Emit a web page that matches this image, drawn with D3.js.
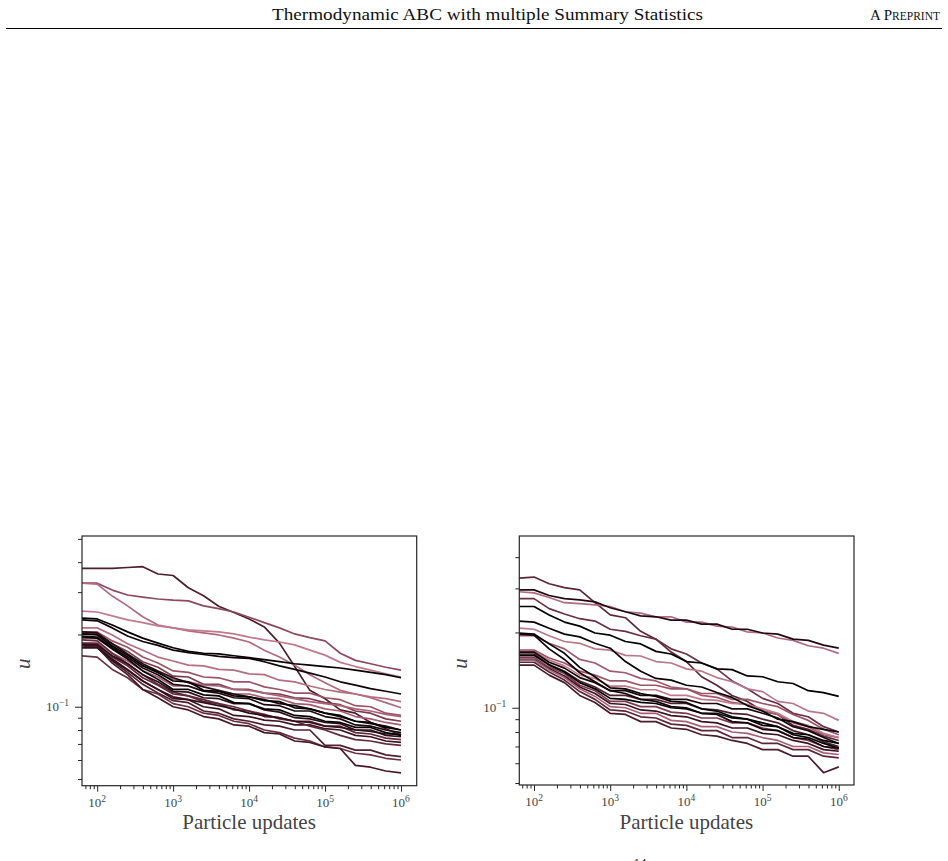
<!DOCTYPE html>
<html lang="en">
<head>
<meta charset="utf-8">
<title>u against particle updates</title>
<script src="https://d3js.org/d3.v7.min.js"></script>
<style>
body{margin:0;background:#fff;}
text{font-family:"Liberation Serif",serif;}
</style>
</head>
<body>
<div id="page"></div>
<script>
var updates = [63,100,158,251,398,631,1000,1585,2512,3981,6310,1e4,15849,25119,39811,63096,1e5,158489,251189,398107,630957,1e6]
var xTickExps = [2,3,4,5,6]
var yMajor = [0.1]
var yMinor = [0.05,0.06,0.07,0.08,0.09,0.2,0.3,0.4,0.5]

// left panel: u for each run
var leftRuns = [
 [.377,.377,.377,.380,.383,.357,.352,.313,.290,.262,.247,.232,.215,.184,.147,.117,.108,.097,.094,.086,.081,.076],
 [.327,.327,.306,.292,.286,.281,.278,.276,.263,.256,.248,.236,.224,.213,.201,.194,.188,.167,.156,.151,.146,.142],
 [.327,.324,.289,.263,.237,.219,.213,.207,.203,.199,.193,.186,.172,.161,.149,.136,.126,.117,.113,.109,.104,.099],
 [.250,.248,.239,.230,.224,.217,.213,.209,.207,.205,.201,.195,.190,.186,.181,.172,.164,.153,.147,.142,.137,.133],
 [.213,.213,.199,.183,.172,.161,.155,.149,.148,.143,.142,.137,.136,.129,.127,.122,.118,.115,.113,.110,.108,.105],
 [.205,.205,.188,.177,.161,.152,.141,.139,.133,.132,.127,.127,.121,.118,.114,.114,.109,.107,.101,.100,.094,.092],
 [.201,.201,.183,.170,.154,.146,.134,.133,.124,.124,.118,.118,.114,.113,.109,.108,.104,.102,.096,.094,.089,.087],
 [.184,.184,.167,.155,.141,.133,.122,.122,.116,.116,.113,.113,.109,.108,.103,.102,.098,.096,.091,.089,.086,.084],
 [.193,.192,.176,.161,.149,.139,.130,.127,.123,.122,.118,.117,.114,.111,.108,.105,.103,.101,.098,.096,.093,.091],
 [.184,.183,.161,.148,.132,.123,.113,.111,.105,.103,.097,.096,.091,.090,.087,.087,.083,.083,.078,.077,.074,.073],
 [.181,.179,.158,.143,.128,.118,.108,.107,.100,.098,.092,.091,.088,.087,.084,.084,.081,.080,.076,.075,.072,.071],
 [.181,.179,.155,.139,.124,.114,.106,.104,.096,.094,.089,.087,.084,.083,.080,.080,.069,.069,.066,.066,.063,.062],
 [.163,.161,.143,.132,.118,.113,.103,.100,.094,.092,.087,.085,.080,.078,.074,.072,.068,.067,.064,.063,.061,.060],
 [.179,.177,.152,.136,.118,.109,.100,.097,.091,.089,.084,.083,.078,.077,.072,.071,.068,.067,.057,.056,.054,.053],
 [.190,.188,.167,.151,.136,.124,.115,.111,.107,.103,.100,.096,.093,.089,.087,.083,.080,.076,.073,.072,.070,.069],
 [.176,.176,.157,.142,.128,.118,.110,.107,.104,.101,.098,.094,.092,.090,.087,.086,.083,.082,.080,.079,.077,.077],
 [.181,.181,.163,.151,.136,.127,.116,.115,.109,.108,.103,.103,.097,.095,.090,.089,.086,.085,.080,.080,.076,.075],
 [.197,.195,.176,.161,.145,.136,.124,.122,.116,.114,.109,.108,.102,.101,.096,.096,.091,.089,.084,.083,.080,.078],
 [.205,.203,.183,.166,.151,.141,.132,.126,.121,.117,.113,.110,.107,.103,.101,.098,.094,.091,.087,.085,.083,.080],
 [.201,.199,.179,.164,.148,.139,.128,.127,.117,.116,.111,.110,.106,.105,.099,.098,.094,.092,.087,.086,.082,.080],
 [.195,.193,.174,.158,.141,.130,.118,.118,.112,.111,.104,.103,.098,.097,.092,.091,.087,.086,.082,.082,.078,.076],
 [.234,.232,.219,.205,.193,.184,.176,.170,.167,.166,.163,.160,.157,.154,.151,.149,.147,.145,.142,.139,.136,.132],
 [.230,.228,.213,.197,.187,.180,.172,.168,.165,.162,.160,.159,.154,.148,.143,.138,.133,.127,.123,.119,.116,.113]
]
var leftColors = ["#4d1e2d","#8c4a5f","#b06a7f","#c07a8d","#b46e82","#9a5468","#7a3a50","#a45c72","#a86478",
 "#5c2738","#3a1520","#4e2030","#6a3045","#451a28","#622a3e","#300f1a","#2b0f19","#1c080f","#220a12",
 "#000000","#080204","#050103","#0f0407"]

// right panel: u for each run
var rightRuns = [
 [.330,.333,.313,.302,.296,.263,.235,.229,.202,.188,.167,.153,.133,.123,.112,.106,.097,.094,.085,.082,.077,.074],
 [.291,.288,.276,.263,.261,.258,.254,.242,.239,.231,.231,.220,.220,.212,.210,.201,.199,.190,.186,.177,.173,.165],
 [.296,.296,.281,.273,.270,.265,.251,.242,.233,.231,.224,.224,.216,.216,.206,.206,.199,.197,.188,.186,.178,.173],
 [.273,.273,.249,.237,.227,.222,.206,.202,.194,.188,.172,.164,.151,.143,.128,.119,.109,.104,.095,.092,.084,.080],
 [.208,.206,.194,.184,.181,.172,.170,.162,.161,.153,.151,.143,.140,.132,.127,.119,.116,.106,.104,.097,.095,.089],
 [.194,.194,.181,.172,.156,.151,.140,.138,.131,.128,.121,.119,.112,.110,.105,.103,.097,.094,.087,.084,.078,.076],
 [.170,.170,.158,.151,.140,.135,.128,.128,.123,.123,.119,.119,.114,.114,.108,.108,.104,.101,.094,.089,.082,.078],
 [.168,.168,.155,.147,.135,.131,.122,.122,.118,.118,.112,.112,.108,.107,.104,.103,.099,.095,.088,.085,.079,.076],
 [.164,.164,.149,.140,.128,.121,.112,.112,.108,.108,.104,.104,.099,.098,.095,.094,.090,.087,.081,.078,.073,.070],
 [.159,.159,.145,.137,.123,.117,.106,.106,.101,.101,.096,.095,.091,.091,.087,.087,.083,.081,.076,.074,.070,.068],
 [.156,.156,.143,.134,.121,.114,.104,.103,.098,.097,.093,.092,.088,.087,.083,.083,.079,.078,.074,.072,.068,.067],
 [.155,.155,.142,.132,.119,.111,.101,.100,.095,.095,.089,.088,.084,.084,.080,.079,.076,.074,.070,.070,.066,.065],
 [.152,.152,.139,.129,.116,.108,.098,.097,.092,.091,.086,.085,.081,.081,.076,.076,.072,.072,.068,.068,.064,.063],
 [.148,.148,.135,.126,.112,.105,.095,.094,.088,.088,.083,.082,.078,.077,.074,.072,.068,.068,.064,.064,.055,.058],
 [.167,.167,.152,.144,.132,.126,.117,.117,.112,.112,.108,.108,.104,.104,.099,.099,.095,.091,.084,.081,.076,.072],
 [.162,.162,.148,.139,.126,.119,.109,.108,.105,.104,.100,.099,.095,.095,.091,.090,.087,.084,.078,.076,.072,.069],
 [.199,.197,.180,.165,.145,.133,.120,.119,.114,.111,.106,.105,.099,.097,.092,.090,.085,.084,.079,.078,.074,.072],
 [.197,.195,.172,.156,.138,.127,.117,.114,.108,.106,.101,.100,.095,.094,.088,.087,.082,.081,.076,.075,.070,.069],
 [.222,.220,.208,.197,.192,.181,.173,.153,.140,.131,.129,.123,.121,.115,.110,.102,.097,.090,.088,.084,.082,.080],
 [.254,.254,.235,.220,.212,.199,.195,.184,.180,.168,.164,.153,.151,.143,.142,.134,.133,.127,.125,.117,.115,.111]
]
var rightColors = ["#5a2838","#b06a80","#1e0a10","#6a3045","#b8788a","#a05a70","#9a5468","#c07a8c","#4e2030",
 "#7a3a50","#3a1520","#a8607a","#5a2838","#4a1c2a","#1a070d","#000000","#050102","#140509","#0a0306","#000000"]

var W = 948, H = 861
var svg = d3.select("#page").append("svg").attr("width",W).attr("height",H)

// running header
svg.append("text").attr("x",272).attr("y",20).attr("font-size",17).attr("fill","#111")
   .attr("textLength",431).attr("lengthAdjust","spacingAndGlyphs")
   .text("Thermodynamic ABC with multiple Summary Statistics")
var pp = svg.append("text").attr("x",940).attr("y",20).attr("text-anchor","end").attr("fill","#111").attr("font-size",15)
pp.append("tspan").text("A P")
pp.append("tspan").attr("font-size",11.5).text("REPRINT")
svg.append("line").attr("x1",6).attr("x2",942).attr("y1",28.5).attr("y2",28.5).attr("stroke","#000").attr("stroke-width",1)
// page number, cut by the bottom edge as in the scan
svg.append("text").attr("x",640).attr("y",867).attr("text-anchor","middle").attr("font-size",13).attr("fill","#111").text("14")

var panels = [
 {left:82, right:416.7, top:536, bottom:785.7, xMin:63.1, xMax:1.61e6, yMin:0.0469, yMax:0.514, runs:leftRuns, colors:leftColors},
 {left:519.3, right:854, top:536, bottom:785, xMin:64.1, xMax:1.585e6, yMin:0.0491, yMax:0.486, runs:rightRuns, colors:rightColors}
]

var xMinor = []
for (var k=1;k<=6;k++) for (var m=2;m<=9;m++) xMinor.push(m*Math.pow(10,k))

panels.forEach(function(p,pi){
    var x = d3.scaleLog().domain([p.xMin,p.xMax]).range([p.left,p.right])
    var y = d3.scaleLog().domain([p.yMin,p.yMax]).range([p.bottom,p.top])
    var g = svg.append("g")

    g.append("clipPath").attr("id","clip"+pi).append("rect")
     .attr("x",p.left).attr("y",p.top).attr("width",p.right-p.left).attr("height",p.bottom-p.top)

    var line = d3.line().x(function(d,i){ return x(updates[i]) }).y(function(d){ return y(d) })
    g.append("g").attr("clip-path","url(#clip"+pi+")")
     .selectAll("path").data(p.runs).enter().append("path")
     .attr("d",line)
     .attr("fill","none")
     .attr("stroke",function(d,i){ return p.colors[i] })
     .attr("stroke-width",1.7)
     .attr("stroke-linejoin","round")

    // frame
    g.append("rect").attr("x",p.left).attr("y",p.top).attr("width",p.right-p.left).attr("height",p.bottom-p.top)
     .attr("fill","none").attr("stroke","#262626").attr("stroke-width",1.2)

    // x ticks
    var inX = function(v){ return v>=p.xMin && v<=p.xMax }
    var xMaj = xTickExps.map(function(e){ return Math.pow(10,e) })
    g.append("g").attr("transform","translate(0,"+p.bottom+")")
     .call(d3.axisBottom(x).tickValues(xMinor.filter(inX)).tickSize(3.5).tickFormat(""))
    g.append("g").attr("transform","translate(0,"+p.bottom+")")
     .call(d3.axisBottom(x).tickValues(xMaj).tickSize(6).tickFormat(""))
    xTickExps.forEach(function(e){
        var t = g.append("text").attr("x",x(Math.pow(10,e))).attr("y",p.bottom+21)
                 .attr("text-anchor","middle").attr("font-size",13).attr("fill","#444")
        t.append("tspan").text("10")
        t.append("tspan").attr("dy",-5).attr("font-size",9.5).text(e)
    })

    // y ticks
    var inY = function(v){ return v>=p.yMin && v<=p.yMax }
    g.append("g").attr("transform","translate("+p.left+",0)")
     .call(d3.axisLeft(y).tickValues(yMinor.filter(inY)).tickSize(4).tickFormat(""))
    g.append("g").attr("transform","translate("+p.left+",0)")
     .call(d3.axisLeft(y).tickValues(yMajor).tickSize(7).tickFormat(""))
    yMajor.forEach(function(v){
        var t = g.append("text").attr("x",p.left-13).attr("y",y(v)+4)
                 .attr("text-anchor","end").attr("font-size",13).attr("fill","#444")
        t.append("tspan").text("10")
        t.append("tspan").attr("dy",-5).attr("font-size",9.5).text("\u22121")
    })
    g.selectAll(".domain").remove()
    g.selectAll(".tick line").attr("stroke","#262626").attr("stroke-width",1)

    // axis titles
    g.append("text").attr("x",(x(100)+x(1e6))/2).attr("y",829).attr("text-anchor","middle")
     .attr("font-size",21).attr("fill","#444").text("Particle updates")
    g.append("text").attr("transform","translate("+(p.left-52)+","+((p.top+p.bottom)/2+3)+") rotate(-90)")
     .attr("text-anchor","middle").attr("font-size",21).attr("font-style","italic").attr("fill","#444").text("u")
})
</script>
</body>
</html>
